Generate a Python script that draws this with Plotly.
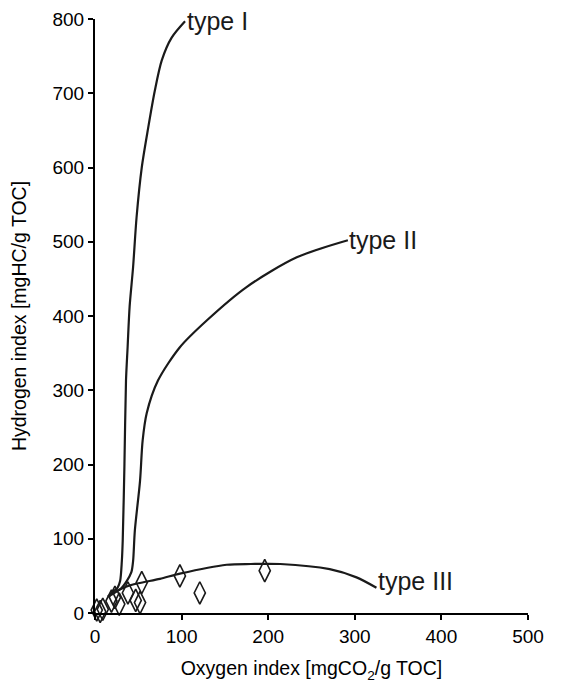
import plotly.graph_objects as go

# Curve data (Oxygen index, Hydrogen index)
type1_x = [15, 20, 26, 29, 31, 32, 34, 35.8, 37.7, 40, 44, 48, 54, 61.5, 69, 77, 88.5, 104]
type1_y = [22, 28, 34, 43, 70, 97, 200, 313, 359, 413, 466, 533, 600, 654, 703, 744, 775, 797]

type2_x = [15, 22, 30, 36.6, 42, 44, 46, 52, 55, 59.7, 72.7, 98, 129, 175, 233, 292]
type2_y = [22, 27, 33, 43, 55, 70, 111, 178, 232, 269, 313, 358, 394, 439, 479, 502]

type3_x = [20, 35, 50, 75, 98, 152, 180, 214, 271, 302, 325]
type3_y = [26, 35, 40, 46, 53, 65, 66, 66, 59, 48, 34]

# Samples
sample_oi = [2, 6, 9, 19, 23, 28, 38, 47, 52, 54, 98, 121, 196]
sample_hi = [4, 2, 5, 16, 21, 12, 27, 17, 14, 41, 50, 27, 57]

labels = ["type I", "type II", "type III"]
label_x = [105, 292, 326]
label_y = [800, 502, 43]
label_yshift = [-2, 0, 0]

line_col = "#1a1a1a"
FONT = "Liberation Sans, Arial"
fig = go.Figure()
for xs, ys in [(type1_x, type1_y), (type2_x, type2_y), (type3_x, type3_y)]:
    fig.add_trace(go.Scatter(x=xs, y=ys, mode="lines",
                             line=dict(color=line_col, width=2.2, shape="spline", smoothing=0.8),
                             hoverinfo="skip", showlegend=False, cliponaxis=False))

fig.add_trace(go.Scatter(x=sample_oi, y=sample_hi, mode="markers",
                         marker=dict(symbol="diamond-tall-open", size=16, color=line_col,
                                     line=dict(width=1.6, color=line_col)),
                         showlegend=False, cliponaxis=False))

for t, x, y, ys in zip(labels, label_x, label_y, label_yshift):
    fig.add_annotation(x=x, y=y, text=t, showarrow=False, xanchor="left", yanchor="middle",
                       xshift=0, yshift=ys, borderpad=0,
                       font=dict(size=25, color=line_col, family=FONT))

axis_common = dict(showline=True, linecolor="black", linewidth=2, ticks="outside", ticklen=5, tickwidth=2,
                   tickcolor="black", showgrid=False, zeroline=False, automargin=False,
                   tickfont=dict(size=19, color="black", family=FONT))

fig.update_xaxes(range=[0, 500], tickvals=[0, 100, 200, 300, 400, 500],
                 title=dict(text="Oxygen index [mgCO<sub>2</sub>/g TOC]",
                            font=dict(size=19.5, color="black", family=FONT), standoff=16),
                 **axis_common)
fig.update_yaxes(range=[0, 800], tickvals=[0, 100, 200, 300, 400, 500, 600, 700, 800],
                 title=dict(text="Hydrogen index [mgHC/g TOC]",
                            font=dict(size=19.5, color="black", family=FONT), standoff=22),
                 **axis_common)

# page body has an 8px default margin; compensate so the plot lands at the reference position
fig.update_layout(width=553, height=688, margin=dict(l=87, r=33, t=11, b=83),
                  plot_bgcolor="white", paper_bgcolor="white",
                  font=dict(family=FONT))

fig.write_html("out.html")
